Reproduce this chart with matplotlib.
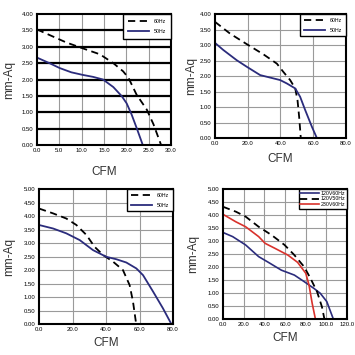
import matplotlib
matplotlib.use('Agg')
import matplotlib.pyplot as plt

plt.rcParams['font.family'] = ['Liberation Sans', 'DejaVu Sans']

NAVY = '#2b2c7c'
RED = '#d8322c'

# panel 1 (top left)
p1_x60 = [0.0, 6.6, 10.3, 14.1, 17.1, 19.3, 20.5, 22.3, 24.6, 26.1, 27.8]
p1_y60 = [3.53, 3.13, 2.95, 2.77, 2.50, 2.25, 2.05, 1.54, 1.08, 0.63, 0.0]
p1_x50 = [0.0, 2.8, 5.1, 7.7, 10.3, 12.6, 14.8, 17.1, 19.0, 20.1, 21.2, 22.3, 23.7]
p1_y50 = [2.67, 2.50, 2.35, 2.22, 2.14, 2.08, 2.00, 1.77, 1.49, 1.27, 0.93, 0.53, 0.0]

# panel 2 (top right)
p2_x60 = [0.0, 9.2, 19.4, 29.6, 37.8, 41.8, 45.9, 49.0, 50.4, 51.4, 52.4]
p2_y60 = [3.75, 3.37, 3.03, 2.70, 2.40, 2.13, 1.87, 1.60, 1.22, 0.68, 0.0]
p2_x50 = [0.0, 5.1, 13.3, 19.4, 27.6, 33.7, 39.8, 43.9, 49.0, 52.0, 55.1, 59.2, 62.2]
p2_y50 = [3.07, 2.84, 2.51, 2.30, 2.03, 1.95, 1.87, 1.76, 1.60, 1.33, 0.90, 0.36, 0.0]

# panel 3 (bottom left)
p3_x60 = [0.0, 8.4, 16.3, 22.3, 28.3, 33.2, 38.2, 44.2, 50.1, 54.1, 56.1, 58.0]
p3_y60 = [4.28, 4.10, 3.91, 3.67, 3.30, 2.86, 2.56, 2.31, 2.00, 1.44, 0.83, 0.0]
p3_x50 = [0.0, 8.4, 16.3, 24.3, 32.2, 40.2, 46.2, 52.1, 58.1, 62.1, 68.1, 74.0, 79.0]
p3_y50 = [3.67, 3.54, 3.36, 3.11, 2.74, 2.49, 2.40, 2.28, 2.06, 1.81, 1.20, 0.58, 0.0]

# panel 4 (bottom right)
p4_x_120v60 = [0.0, 9.4, 21.9, 34.5, 43.9, 56.4, 69.0, 78.4, 87.8, 94.0, 100.3, 106.6]
p4_y_120v60 = [3.33, 3.17, 2.85, 2.40, 2.18, 1.88, 1.69, 1.44, 1.18, 0.99, 0.67, 0.0]
p4_x_120v50 = [0.0, 12.5, 21.9, 34.5, 47.0, 59.5, 69.0, 78.4, 84.6, 90.9, 95.6, 98.0]
p4_y_120v50 = [4.32, 4.13, 3.94, 3.55, 3.23, 2.85, 2.46, 2.01, 1.56, 1.05, 0.47, 0.0]
p4_x_230v60 = [0.0, 12.5, 21.9, 34.5, 40.8, 50.2, 62.7, 72.1, 80.0, 83.1, 86.2, 89.3]
p4_y_230v60 = [4.03, 3.74, 3.55, 3.17, 2.91, 2.72, 2.46, 2.18, 1.76, 1.31, 0.60, 0.0]

DASH = (0, (4, 2.5))


def style_axes(ax, xmax, xstep, ymax, xpad, ypad, thick_h=False):
    ax.set_xlim(0, xmax)
    ax.set_ylim(0, ymax)
    xt = [i * xstep for i in range(int(round(xmax / xstep)) + 1)]
    yt = [i * 0.5 for i in range(int(round(ymax / 0.5)) + 1)]
    ax.set_xticks(xt)
    ax.set_xticklabels(['%.1f' % v for v in xt])
    ax.set_yticks(yt)
    ax.set_yticklabels(['%.2f' % v for v in yt])
    ax.tick_params(length=0, pad=2.5, labelsize=4.3)
    for v in xt[1:-1]:
        ax.axvline(v, color='#9a9a9a', lw=0.8, zorder=0)
    for v in yt[1:-1]:
        if thick_h:
            ax.axhline(v, color='black', lw=1.6, zorder=0)
        else:
            ax.axhline(v, color='#9a9a9a', lw=0.8, zorder=0)
    for s in ax.spines.values():
        s.set_linewidth(1.5)
    ax.set_xlabel('CFM', fontsize=8.5, color='#333333', labelpad=xpad)
    ax.set_ylabel('mm-Aq', fontsize=8.5, color='#333333', labelpad=ypad)


def add_legend(ax, spacing=1.0, bpad=0.9):
    leg = ax.legend(loc='upper right', bbox_to_anchor=(1, 1), borderaxespad=0,
                    fontsize=3.8, fancybox=False, edgecolor='black', framealpha=1,
                    handlelength=4.0, labelspacing=spacing, borderpad=bpad,
                    handletextpad=0.9)
    leg.get_frame().set_linewidth(1.0)


fig = plt.figure(figsize=(3.55, 3.55), dpi=100)

ax1 = fig.add_axes([0.104, 0.5915, 0.3775, 0.369])
ax1.plot(p1_x60, p1_y60, color='black', lw=1.3, ls=DASH, label='60Hz')
ax1.plot(p1_x50, p1_y50, color=NAVY, lw=1.3, label='50Hz')
style_axes(ax1, 30, 5, 4, xpad=9, ypad=5, thick_h=True)
add_legend(ax1)

ax2 = fig.add_axes([0.6056, 0.6113, 0.369, 0.349])
ax2.plot(p2_x60, p2_y60, color='black', lw=1.3, ls=DASH, label='60Hz')
ax2.plot(p2_x50, p2_y50, color=NAVY, lw=1.3, label='50Hz')
style_axes(ax2, 80, 20, 4, xpad=5, ypad=2)
add_legend(ax2, spacing=0.9, bpad=0.7)

ax3 = fig.add_axes([0.1099, 0.0873, 0.3775, 0.380])
ax3.plot(p3_x60, p3_y60, color='black', lw=1.3, ls=DASH, label='60Hz')
ax3.plot(p3_x50, p3_y50, color=NAVY, lw=1.3, label='50Hz')
style_axes(ax3, 80, 20, 5, xpad=3, ypad=6)
add_legend(ax3, spacing=0.9, bpad=0.7)

ax4 = fig.add_axes([0.628, 0.1014, 0.350, 0.366])
ax4.plot(p4_x_120v60, p4_y_120v60, color=NAVY, lw=1.2, label='120V60Hz')
ax4.plot(p4_x_120v50, p4_y_120v50, color='black', lw=1.3, ls=DASH, label='120V50Hz')
ax4.plot(p4_x_230v60, p4_y_230v60, color=RED, lw=1.2, label='230V60Hz')
style_axes(ax4, 120, 20, 5, xpad=3, ypad=6)
leg = ax4.legend(loc='upper right', bbox_to_anchor=(1, 1), borderaxespad=0,
                 fontsize=3.8, fancybox=False, edgecolor='black', framealpha=1,
                 handlelength=3.6, labelspacing=0.15, borderpad=0.3,
                 handletextpad=0.3)
leg.get_frame().set_linewidth(1.0)

fig.savefig('out.png', dpi=100)
